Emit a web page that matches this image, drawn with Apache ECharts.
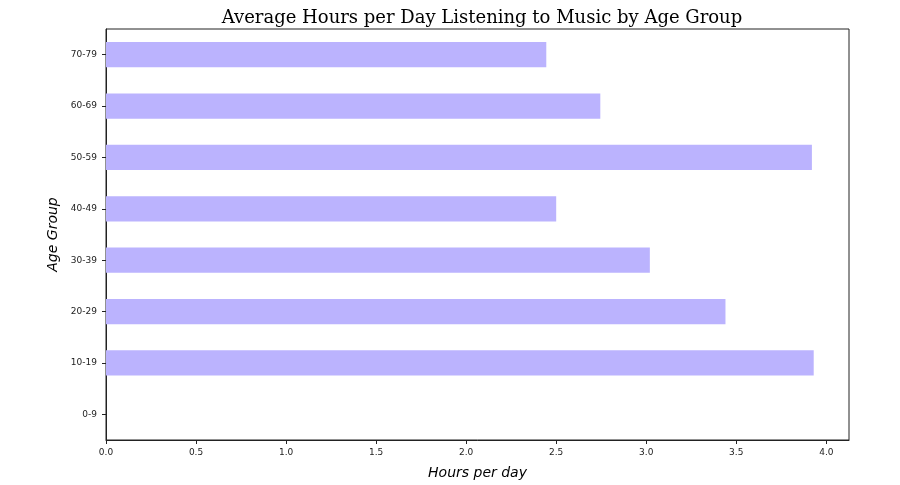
<!DOCTYPE html>
<html><head><meta charset="utf-8">
<script src="https://cdn.jsdelivr.net/npm/echarts@6/dist/echarts.min.js"></script>
<style>html,body{margin:0;padding:0;background:#fff}#c{width:900px;height:485px}</style>
</head><body><div id="c"></div>
<script>
const categories = ['0-9','10-19','20-29','30-39','40-49','50-59','60-69','70-79'];
const hours = [0, 3.93, 3.44, 3.02, 2.50, 3.92, 2.745, 2.445];
const xTicks = [0, 0.5, 1.0, 1.5, 2.0, 2.5, 3.0, 3.5, 4.0];

const chart = echarts.init(document.getElementById('c'), null, {renderer:'canvas'});
chart.setOption({
  animation: false,
  backgroundColor: '#fff',
  title: {
    text: 'Average Hours per Day Listening to Music by Age Group',
    left: 477, top: 4, textAlign: 'center',
    textStyle: {fontFamily: 'DejaVu Serif', fontSize: 18, fontWeight: 'normal', color: '#000'}
  },
  grid: {left: 106, right: 51, top: 29, bottom: 42, show: true, borderColor: '#222', borderWidth: 1, backgroundColor: 'transparent'},
  xAxis: {
    type: 'value', min: 0, max: 4.126, interval: 0.5,
    name: 'Hours per day', nameLocation: 'middle', nameGap: 26,
    nameTextStyle: {fontFamily: 'DejaVu Sans', fontStyle: 'italic', fontSize: 14, color: '#000'},
    axisLine: {show: true, lineStyle: {color: '#222'}},
    axisTick: {show: true, length: 4, lineStyle: {color: '#222'}},
    splitLine: {show: false},
    axisLabel: {fontFamily: 'DejaVu Sans', fontSize: 9, color: '#222', margin: 8,
      formatter: v => xTicks.some(t => Math.abs(t - v) < 1e-9) ? v.toFixed(1) : '',
      showMaxLabel: false}
  },
  yAxis: {
    type: 'category', data: categories,
    name: 'Age Group', nameLocation: 'middle', nameGap: 39,
    nameTextStyle: {fontFamily: 'DejaVu Sans', fontStyle: 'italic', fontSize: 14, color: '#000'},
    axisLine: {show: true, lineStyle: {color: '#222'}},
    axisTick: {show: true, length: 4, alignWithLabel: true, lineStyle: {color: '#222'}},
    axisLabel: {fontFamily: 'DejaVu Sans', fontSize: 9, color: '#222', margin: 9}
  },
  series: [{
    type: 'bar', data: hours, barCategoryGap: '51%',
    itemStyle: {color: '#bbb3fe'}
  }]
});
</script></body></html>
